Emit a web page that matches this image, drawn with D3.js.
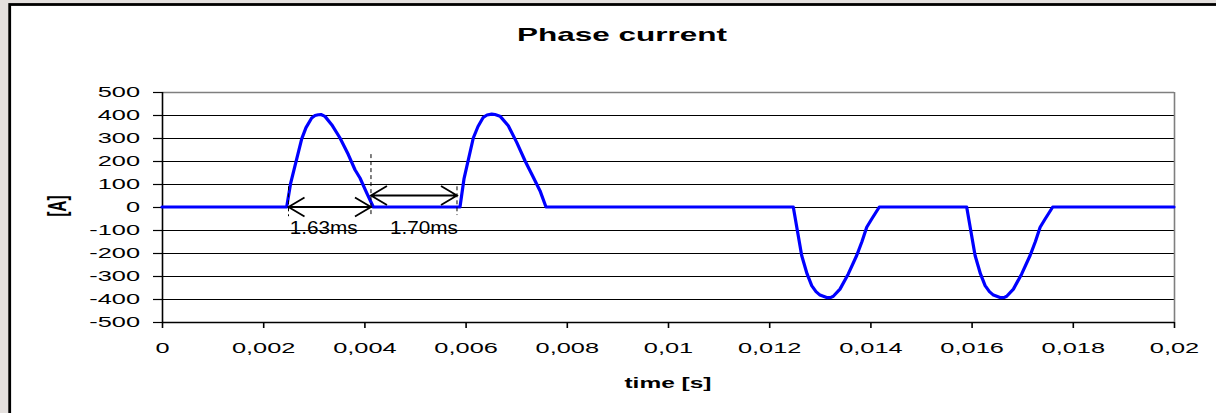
<!DOCTYPE html>
<html>
<head>
<meta charset="utf-8">
<script src="https://cdn.jsdelivr.net/npm/d3@7"></script>
<style>
  html, body { margin: 0; padding: 0; background: #e4e0de; }
  svg { display: block; }
  text { font-family: "Liberation Sans", Arial, sans-serif; fill: #000; }
</style>
</head>
<body>
<svg id="chart" width="1216" height="413"></svg>
<script>
// Sampled phase current waveform: time in seconds, current in amperes
const timeS = [
  0, 0.002464,
  0.002543, 0.002761, 0.002846, 0.002958, 0.003024, 0.003089, 0.003142, 0.003221,
  0.003354, 0.003518, 0.003682, 0.003814, 0.003913, 0.004045, 0.004176,
  0.005889, 0.005968, 0.006152, 0.006245, 0.006350, 0.006423, 0.006516, 0.006581,
  0.006680, 0.006844, 0.007010, 0.007174, 0.007338, 0.007470, 0.007589,
  0.012476, 0.012642, 0.012747, 0.012840, 0.012925, 0.013004, 0.013136, 0.013221,
  0.013267, 0.013399, 0.013563, 0.013729, 0.013834, 0.013927, 0.014026, 0.014176,
  0.015903, 0.016069, 0.016174, 0.016267, 0.016352, 0.016431, 0.016563, 0.016648,
  0.016694, 0.016826, 0.016990, 0.017156, 0.017261, 0.017354, 0.017453, 0.017603,
  0.02
];
const currentA = [
  0, 0,
  104, 296, 345, 387, 398, 401, 402, 394,
  358, 300, 228, 162, 126, 61, 0,
  0, 122, 300, 350, 390, 400, 404, 402,
  395, 353, 281, 201, 129, 71, 0,
  0, -211, -290, -342, -368, -383, -394, -393,
  -388, -357, -291, -211, -150, -88, -52, 0,
  0, -211, -290, -342, -368, -383, -394, -393,
  -388, -357, -291, -211, -150, -88, -52, 0,
  0
];

const xTickValues = [0, 0.002, 0.004, 0.006, 0.008, 0.01, 0.012, 0.014, 0.016, 0.018, 0.02];
const xTickLabels = ["0", "0,002", "0,004", "0,006", "0,008", "0,01", "0,012", "0,014", "0,016", "0,018", "0,02"];
const yTickValues = [-500, -400, -300, -200, -100, 0, 100, 200, 300, 400, 500];
const yTickLabels = ["-500", "-400", "-300", "-200", "-100", "0", "100", "200", "300", "400", "500"];

// Interval annotations (pulse width and gap), in milliseconds
const intervalStartS = 0.0025;
const intervalMs = [1.63, 1.70];
const intervalLabels = ["1.63ms", "1.70ms"];
const intervalLevelA = [0, 50];

const chartTitle = "Phase current";
const xTitle = "time [s]";
const yTitle = "[A]";

const SX = 1.75; // horizontal text stretch
const svg = d3.select("#chart");

// outer frame
svg.append("rect").attr("x", 0).attr("y", 0).attr("width", 1216).attr("height", 413).attr("fill", "#e4e0de");
svg.append("rect").attr("x", 9.7).attr("y", 4.5).attr("width", 1300).attr("height", 500)
  .attr("fill", "#fff").attr("stroke", "#000").attr("stroke-width", 2.8);

const plot = { left: 162, right: 1174, top: 92, bottom: 322 };
const x = d3.scaleLinear().domain([0, 0.02]).range([plot.left, plot.right]);
const y = d3.scaleLinear().domain([-500, 500]).range([plot.bottom, plot.top]);

function stretchedText(parent, px, py, str, opts) {
  const g = parent.append("g")
    .attr("transform", `translate(${px},${py}) scale(${SX},1)` + (opts.rotate ? ` rotate(${opts.rotate})` : ""));
  return g.append("text")
    .attr("text-anchor", opts.anchor || "middle")
    .attr("dominant-baseline", opts.baseline || "auto")
    .attr("font-size", opts.size)
    .attr("font-weight", opts.weight || "normal")
    .text(str);
}

// horizontal gridlines
svg.append("g").selectAll("line").data(yTickValues.filter(v => v > -500)).join("line")
  .attr("x1", plot.left).attr("x2", plot.right)
  .attr("y1", d => Math.round(y(d)) + 0.5).attr("y2", d => Math.round(y(d)) + 0.5)
  .attr("stroke", d => d === 500 ? "#7f7f7f" : "#000")
  .attr("stroke-width", d => d === 500 ? 1.6 : 1);

// right plot border
svg.append("line").attr("x1", plot.right + 0.5).attr("x2", plot.right + 0.5)
  .attr("y1", plot.top).attr("y2", plot.bottom)
  .attr("stroke", "#7f7f7f").attr("stroke-width", 1.6);

// y axis
const yAxis = svg.append("g").attr("transform", `translate(${plot.left},0)`)
  .call(d3.axisLeft(y).tickValues(yTickValues).tickSize(9).tickPadding(13)
    .tickFormat((d, i) => yTickLabels[i]));
yAxis.select(".domain").attr("stroke", "#000").attr("stroke-width", 1.6).attr("d", `M0.5,${plot.top}V${plot.bottom}`);
yAxis.selectAll(".tick line").attr("stroke", "#000").attr("stroke-width", 1.2);
yAxis.selectAll(".tick text")
  .attr("font-size", 14.5).attr("font-family", "Liberation Sans, Arial, sans-serif").attr("fill", "#000")
  .each(function () {
    const t = d3.select(this);
    t.attr("x", +t.attr("x") / SX).attr("transform", `scale(${SX},1)`);
  });

// x axis
const xAxis = svg.append("g").attr("transform", `translate(0,${plot.bottom})`)
  .call(d3.axisBottom(x).tickValues(xTickValues).tickSize(6).tickPadding(15)
    .tickFormat((d, i) => xTickLabels[i]));
xAxis.select(".domain").attr("stroke", "#000").attr("stroke-width", 1.6).attr("d", `M${plot.left},0.5H${plot.right}`);
xAxis.selectAll(".tick line").attr("stroke", "#000").attr("stroke-width", 1.6);
xAxis.selectAll(".tick text")
  .attr("font-size", 14.5).attr("font-family", "Liberation Sans, Arial, sans-serif").attr("fill", "#000")
  .attr("transform", `scale(${SX},1)`);

// current waveform
const series = timeS.map((t, i) => [t, currentA[i]]);
svg.append("path").datum(series)
  .attr("fill", "none").attr("stroke", "#0000ff").attr("stroke-width", 3.2)
  .attr("stroke-linejoin", "round").attr("stroke-linecap", "round")
  .attr("d", d3.line().x(d => x(d[0])).y(d => y(d[1])));

// interval annotations
const marks = [];
let t0 = intervalStartS;
intervalMs.forEach((ms, i) => {
  const t1 = t0 + ms / 1000;
  marks.push({ t0, t1, level: intervalLevelA[i], label: intervalLabels[i] });
  t0 = t1;
});
const dashed = [
  { t: marks[0].t0, top: 90, bottom: -40 },
  { t: marks[0].t1, top: 230, bottom: -35 },
  { t: marks[1].t1, top: 90, bottom: -35 }
];
const ann = svg.append("g");
ann.selectAll("line.dash").data(dashed).join("line").attr("class", "dash")
  .attr("x1", d => x(d.t)).attr("x2", d => x(d.t))
  .attr("y1", d => y(d.top)).attr("y2", d => y(d.bottom))
  .attr("stroke", "#000").attr("stroke-width", 1).attr("stroke-dasharray", "4,3");

const head = 16, spread = 9.5;
marks.forEach((m, i) => {
  const xa = x(m.t0), xb = x(m.t1), yy = y(m.level);
  const p = d3.path();
  p.moveTo(xa, yy); p.lineTo(xb, yy);
  p.moveTo(xa + head, yy - spread); p.lineTo(xa, yy); p.lineTo(xa + head, yy + spread);
  p.moveTo(xb - head, yy - spread); p.lineTo(xb, yy); p.lineTo(xb - head, yy + spread);
  ann.append("path").attr("d", p.toString()).attr("fill", "none")
    .attr("stroke", "#000").attr("stroke-width", 1.8);
  const dx = i === 0 ? -6 : 10;
  ann.append("text")
    .attr("x", (xa + xb) / 2 + dx).attr("y", 234)
    .attr("text-anchor", "middle").attr("font-size", 17.5)
    .attr("textLength", 68).attr("lengthAdjust", "spacingAndGlyphs")
    .text(m.label);
});

// titles
stretchedText(svg, 622, 41, chartTitle, { size: 18, weight: "bold" });
stretchedText(svg, 668, 388, xTitle, { size: 14, weight: "bold" });
stretchedText(svg, 57, 206, yTitle, { size: 15, weight: "bold", rotate: -90, baseline: "central" });
</script>
</body>
</html>
